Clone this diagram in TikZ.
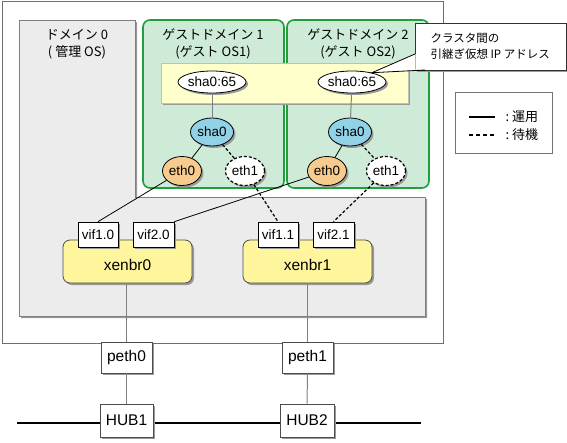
\documentclass[tikz,border=0pt]{standalone}
\usepackage{fontspec}
\setmainfont{Liberation Sans}
\newfontfamily\jpfont{Noto Sans CJK JP}
\usetikzlibrary{shapes.geometric,shadows}
\definecolor{frameGray}{HTML}{6E6E6E}
\definecolor{domGray}{HTML}{ECECEC}
\definecolor{guestFill}{HTML}{CDEBD7}
\definecolor{guestLine}{HTML}{1FA03C}
\definecolor{bandYellow}{HTML}{FFFFCC}
\definecolor{brYellow}{HTML}{FFF59D}
\definecolor{shaBlue}{HTML}{92D2E6}
\definecolor{ethOrange}{HTML}{F7CB8E}
\tikzset{
  shade/.style={drop shadow={shadow xshift=2pt,shadow yshift=-2pt,fill=black!40,opacity=1}},
  guestbox/.style={draw=guestLine,line width=1.6pt,fill=guestFill,rounded corners=7pt,
    minimum height=168pt,inner sep=0pt},
  oval/.style={ellipse,draw,line width=0.8pt,shade,inner sep=0pt,font=\fontsize{13.5}{14}\selectfont},
  vipoval/.style={oval,fill=white,minimum width=68pt,minimum height=22pt},
  shaoval/.style={oval,fill=shaBlue,minimum width=43pt,minimum height=28pt},
  ethoval/.style={oval,fill=ethOrange,minimum width=39pt,minimum height=29pt},
  sbyoval/.style={oval,fill=white,dashed,line width=1.2pt,dash pattern=on 3pt off 2pt,
    minimum width=39pt,minimum height=29pt},
  vifbox/.style={draw,line width=0.7pt,fill=white,shade,minimum width=40pt,minimum height=25pt,
    inner sep=0pt,font=\fontsize{13.5}{14}\selectfont},
  brbox/.style={draw=black!70,line width=0.8pt,fill=brYellow,shade,rounded corners=7pt,
    minimum width=129pt,minimum height=43pt,inner sep=0pt},
  netbox/.style={draw=black!70,line width=0.8pt,fill=white,shade,minimum height=31pt,
    inner sep=0pt,font=\fontsize{15.5}{16}\selectfont},
  title/.style={align=center,font=\jpfont\fontsize{13}{17}\selectfont},
  actline/.style={line width=0.8pt},
  sbyline/.style={line width=1.2pt,dash pattern=on 3pt off 2pt},
  upline/.style={draw=black!50,line width=1pt}
}
\begin{document}
\begin{tikzpicture}[x=1pt,y=-1pt]
\useasboundingbox (0,0) rectangle (567,442);
\draw[frameGray,line width=1pt,fill=white] (2,1) rectangle (443,343);
\draw[draw=black!50,line width=0.8pt,fill=domGray,shade]
  (19,20) -- (135,20) -- (135,197) -- (425,197) -- (425,316) -- (19,316) -- cycle;
\node[title] (dom0title) at (77,44) {ドメイン 0\\( 管理 OS)};

\node[guestbox,minimum width=141pt] (guestA) at (213.5,104) {};
\node[guestbox,minimum width=142pt] (guestB) at (358,104) {};
\node[title] (guestAtitle) at (213,44) {ゲストドメイン 1\\(ゲスト OS1)};
\node[title] (guestBtitle) at (358,44) {ゲストドメイン 2\\(ゲスト OS2)};
\node[draw=black!25,line width=0.8pt,fill=bandYellow,shade,minimum width=247pt,
  minimum height=40pt,inner sep=0pt] (vipband) at (284.5,83) {};

\node[vipoval] (vipA) at (212,82) {sha0:65};
\node[vipoval] (vipB) at (352,82) {sha0:65};
\node[shaoval] (shaA) at (212,132) {sha0};
\node[shaoval] (shaB) at (350,132) {sha0};
\node[ethoval] (ethA0) at (182,171) {eth0};
\node[sbyoval] (ethA1) at (245,171) {eth1};
\node[ethoval] (ethB0) at (327,171) {eth0};
\node[sbyoval] (ethB1) at (386,171) {eth1};
\draw[upline] (vipA) -- (shaA);
\draw[upline] (vipB) -- (shaB);
\draw[actline] (shaA) -- (ethA0);
\draw[actline] (shaB) -- (ethB0);
\draw[sbyline] (shaA) -- (ethA1);
\draw[sbyline] (shaB) -- (ethB1);

\node[brbox] (br0) at (127.5,261.5) {};
\node[brbox] (br1) at (307.5,261.5) {};
\node[font=\fontsize{15.5}{16}\selectfont] (br0label) at (127.5,265) {xenbr0};
\node[font=\fontsize{15.5}{16}\selectfont] (br1label) at (307.5,265) {xenbr1};
\node[vifbox] (vif10) at (98,234.5) {vif1.0};
\node[vifbox,minimum width=41pt] (vif20) at (153.5,234.5) {vif2.0};
\node[vifbox] (vif11) at (278,234.5) {vif1.1};
\node[vifbox,minimum width=41pt] (vif21) at (333.5,234.5) {vif2.1};
\draw[actline] (ethA0) -- (vif10.north);
\draw[actline] (ethB0) -- (vif20.north east);
\draw[sbyline] (ethA1) -- (vif11.north);
\draw[sbyline] (ethB1) -- (vif21.north);

\coordinate (lanL) at (17,423);
\coordinate (lanR) at (421,423);
\draw[line width=1.2pt] (lanL) -- (lanR);
\node[netbox,minimum width=51pt] (peth0) at (126.5,357.5) {peth0};
\node[netbox,minimum width=51pt] (peth1) at (307.5,357.5) {peth1};
\node[netbox,minimum width=53pt,minimum height=33pt] (hub1) at (126.5,420.5) {HUB1};
\node[netbox,minimum width=54pt,minimum height=33pt] (hub2) at (307,420.5) {HUB2};
\draw[upline] (br0.south -| peth0) -- (peth0);
\draw[upline] (br1.south -| peth1) -- (peth1);
\draw[upline] (peth0) -- (hub1);
\draw[upline] (peth1) -- (hub2);

\node[draw=black!80,line width=0.8pt,fill=white,shade,minimum width=151pt,minimum height=47pt,
  inner sep=0pt] (callout) at (490.5,46.5) {};
\coordinate (tip) at (vipB.25);
\fill[white] (415.5,54) -- (tip) -- (425,69.5) -- (415.5,69.5) -- cycle;
\draw[line width=0.8pt] (415,54) -- (tip) -- (425,70);
\node[anchor=west,align=left,font=\jpfont\fontsize{11.5}{16}\selectfont] (calloutText)
  at (427,46) {クラスタ間の\\引継ぎ仮想 IP アドレス};

\node[draw=black!55,line width=0.9pt,fill=white,minimum width=97pt,minimum height=61pt,
  inner sep=0pt] (legend) at (503.5,122.5) {};
\coordinate (actL) at (469,117);
\coordinate (actR) at (495,117);
\coordinate (sbyL) at (469,135);
\coordinate (sbyR) at (495,135);
\draw[line width=1.3pt] (actL) -- (actR);
\draw[line width=1.3pt,dash pattern=on 4pt off 3pt] (sbyL) -- (sbyR);
\node[anchor=west,font=\jpfont\fontsize{13}{14}\selectfont] (actText) at (502,117) {:\ 運用};
\node[anchor=west,font=\jpfont\fontsize{13}{14}\selectfont] (sbyText) at (502,135) {:\ 待機};
\end{tikzpicture}
\end{document}
